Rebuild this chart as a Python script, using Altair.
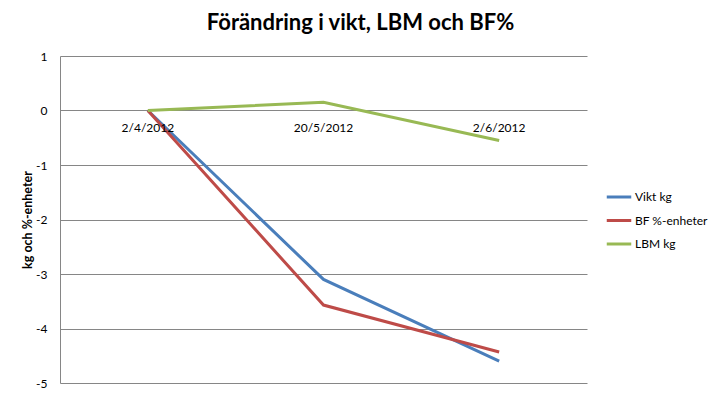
import altair as alt
import pandas as pd

dates = ["2/4/2012", "20/5/2012", "2/6/2012"]
series = ["Vikt kg", "BF %-enheter", "LBM kg"]
vikt = [0.0, -3.1, -4.6]
bf = [0.0, -3.57, -4.43]
lbm = [0.0, 0.15, -0.55]
colors = ["#4A7EBB", "#BE4B48", "#98B954"]
y_ticks = [-5, -4, -3, -2, -1, 0, 1]

rows = []
for name, vals in zip(series, [vikt, bf, lbm]):
    for d, v in zip(dates, vals):
        rows.append({"Datum": d, "Serie": name, "Värde": v})
df = pd.DataFrame(rows)
lab = pd.DataFrame({"Datum": dates, "zero": [0] * len(dates)})

xenc = alt.X("Datum:N", sort=dates, axis=None,
             scale=alt.Scale(type="point", padding=0.5))
yscale = alt.Scale(domain=[-5, 1], nice=False)

lines = alt.Chart(df).mark_line(strokeWidth=3).encode(
    x=xenc,
    y=alt.Y("Värde:Q", scale=yscale,
            axis=alt.Axis(values=y_ticks, labelExpr="datum.value + ''",
                          grid=True, gridColor="#868686",
                          domainColor="#868686", ticks=False, labelPadding=13,
                          labelFont="Lato", labelFontSize=12, labelColor="#000000",
                          title="kg och %-enheter", titleFont="Lato",
                          titleFontSize=12.5, titleFontWeight="bold",
                          titleColor="#000000", titlePadding=1)),
    color=alt.Color("Serie:N", sort=series,
                    scale=alt.Scale(domain=series, range=colors),
                    legend=alt.Legend(title=None, orient="none", legendX=545,
                                      legendY=127, symbolType="stroke",
                                      symbolSize=600, symbolStrokeWidth=3,
                                      labelFont="Lato", labelFontSize=12,
                                      labelColor="#000000", rowPadding=3.5,
                                      labelOffset=2)),
    order=alt.Order("Serie:N"),
)

labels = alt.Chart(lab).mark_text(dy=17, font="Lato", fontSize=12,
                                  color="#000000").encode(
    x=xenc,
    y=alt.Y("zero:Q", scale=yscale),
    text="Datum:N",
)

chart = alt.layer(lines, labels).properties(
    width=527, height=327,
    title=alt.TitleParams("Förändring i vikt, LBM och BF%", font="Lato",
                          fontSize=22, fontWeight="bold", color="#000000",
                          anchor="middle", frame="group", dx=37, offset=15),
    autosize=alt.AutoSizeParams(type="none"),
    padding={"left": 52, "top": 48, "right": 128, "bottom": 8},
).configure_view(stroke=None)

chart.save("out.html", embed_options={"renderer": "svg", "actions": False})
